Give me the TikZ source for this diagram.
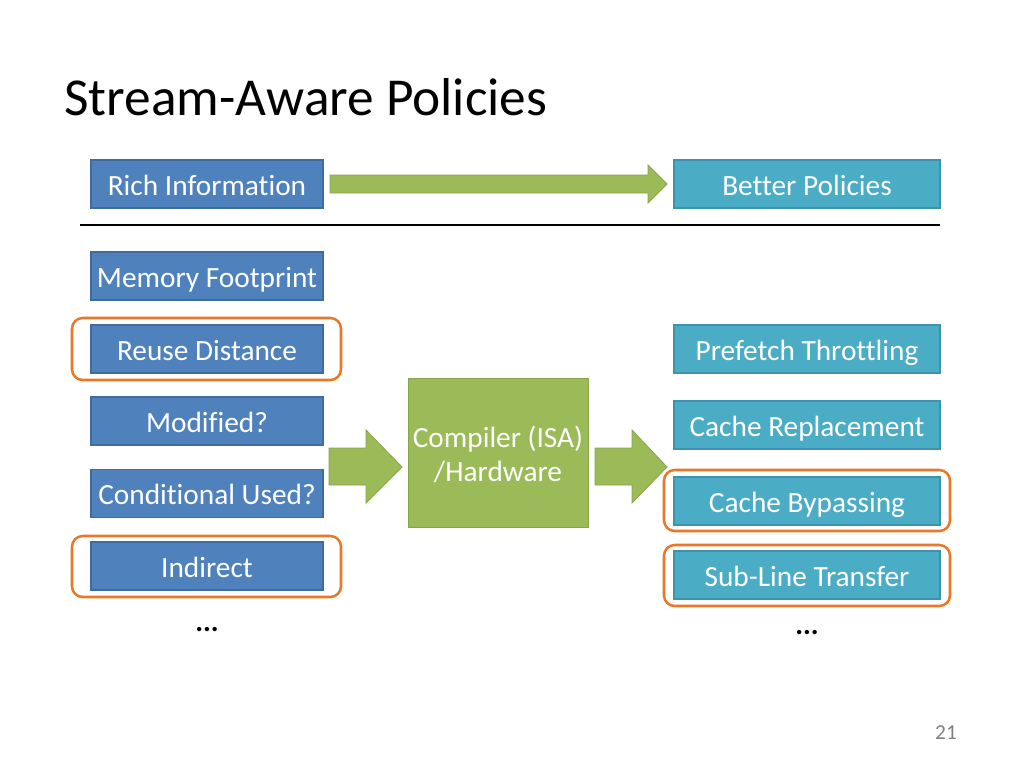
\documentclass[tikz,border=0pt]{standalone}
\usepackage{fontspec}
\setmainfont{Carlito}[Ligatures=CommonOff]
\definecolor{bluefill}{HTML}{4F81BD}
\definecolor{blueedge}{HTML}{3F6C9E}
\definecolor{tealfill}{HTML}{4BACC6}
\definecolor{tealedge}{HTML}{3D93AB}
\definecolor{greenfill}{HTML}{9BBB59}
\definecolor{greenedge}{HTML}{86A54A}
\definecolor{hl}{HTML}{E8782A}
\begin{document}
\begin{tikzpicture}[x=0.75pt,y=-0.75pt,
  boxtext/.style={text=white,inner sep=0pt,text height=17pt,text depth=0pt,font=\fontsize{22}{26}\selectfont},
  info/.style={boxtext,draw=blueedge,fill=bluefill,line width=0.8pt,minimum width=174pt,minimum height=36pt},
  pol/.style={boxtext,draw=tealedge,fill=tealfill,line width=0.8pt,minimum width=199.5pt,minimum height=36pt},
  hilite/.style={draw=hl,line width=1.9pt,rounded corners=8pt},
  garrow/.style={draw=greenedge,fill=greenfill,line width=0.6pt},
  dots/.style={font=\fontsize{22}{26}\selectfont\bfseries}
]
\useasboundingbox (0,0) rectangle (1024,768);
\fill[white] (0,0) rectangle (1024,768);
% title
\node[anchor=base west,inner sep=0pt,font=\fontsize{40}{48}\selectfont] (title) at (64,115) {Stream-Aware Policies};
% top row
\node[info] (rich) at (207,184) {Rich Information};
\node[pol] (better) at (807,184) {Better Policies};
\draw[garrow] (330,175) -- (648,175) -- (648,165) -- (667,184) -- (648,203) -- (648,193) -- (330,193) -- cycle;
% separator
\draw[line width=2.2pt] (80,225) -- (940,225);
% left column
\node[info] (mem) at (207,276) {Memory Footprint};
\node[info] (reuse) at (207,349) {Reuse Distance};
\node[info] (mod) at (207,421) {Modified?};
\node[info] (cond) at (207,493.5) {Conditional Used?};
\node[info] (ind) at (207,566) {Indirect};
\node[dots] (ldots) at (207,630) {...};
\draw[hilite] (72,318) rectangle (341,380);
\draw[hilite] (72,536) rectangle (341,597);
% center
\node[draw=greenedge,fill=greenfill,line width=0.6pt,minimum width=135pt,minimum height=111.75pt,inner sep=0pt] (comp) at (498,452.5) {};
\node[text=white,align=center,font=\fontsize{22}{25.5}\selectfont] (comptext) at (498,454) {Compiler (ISA)\\/Hardware};
\draw[garrow] (329,448) -- (366,448) -- (366,430) -- (402,467) -- (366,503) -- (366,485) -- (329,485) -- cycle;
\draw[garrow] (595,448) -- (632,448) -- (632,430) -- (667,467) -- (632,503) -- (632,485) -- (595,485) -- cycle;
% right column
\node[pol] (pref) at (807,349) {Prefetch Throttling};
\node[pol] (repl) at (807,425) {Cache Replacement};
\node[pol] (byp) at (807,501) {Cache Bypassing};
\node[pol] (sub) at (807,575) {Sub-Line Transfer};
\node[dots] (rdots) at (807,633) {...};
\draw[hilite] (664,470) rectangle (950,531);
\draw[hilite] (664,545) rectangle (950,606);
% page number
\node[text=black!50,font=\fontsize{16}{19}\selectfont] (pg) at (946,733) {21};
\end{tikzpicture}
\end{document}
